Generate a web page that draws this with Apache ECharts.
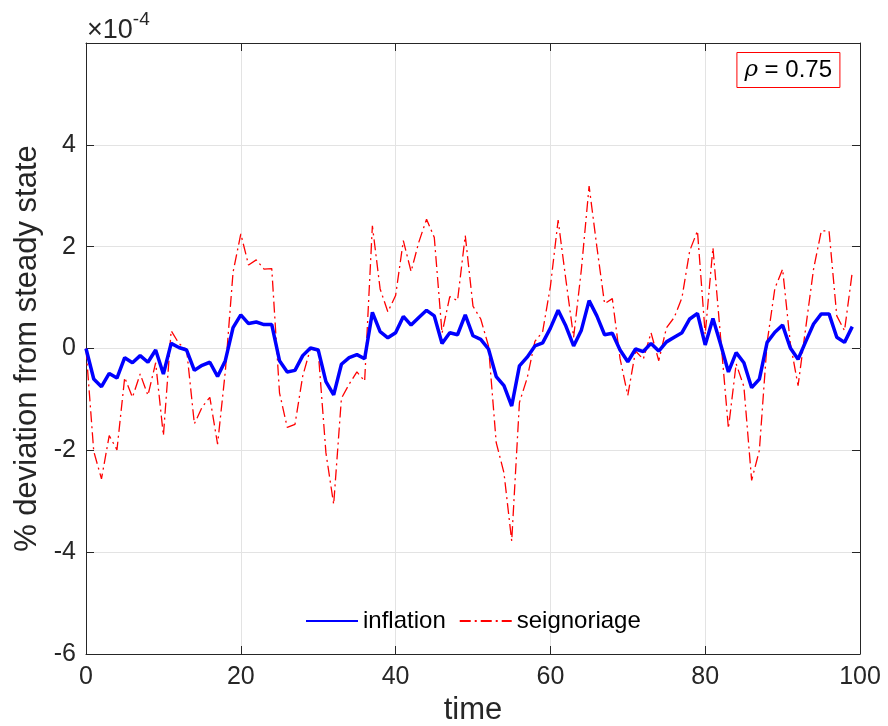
<!DOCTYPE html>
<html>
<head>
<meta charset="utf-8">
<script src="https://cdn.jsdelivr.net/npm/echarts@6/dist/echarts.min.js"></script>
<style>
html,body{margin:0;padding:0;background:#fff;}
#chart{width:888px;height:726px;}
</style>
</head>
<body>
<div id="chart"></div>
<script>
// time index 0..99, values in units of 1e-4 (% deviation from steady state)
const time = Array.from({length: 100}, (_, i) => i);
const inflation = [
  0, -0.60, -0.75, -0.49, -0.58, -0.18, -0.28, -0.14, -0.27, -0.03,
  -0.50, 0.10, 0.02, -0.03, -0.43, -0.33, -0.27, -0.55, -0.24, 0.41,
  0.66, 0.49, 0.52, 0.47, 0.47, -0.24, -0.46, -0.43, -0.14, 0.01,
  -0.03, -0.65, -0.91, -0.31, -0.18, -0.12, -0.20, 0.71, 0.33, 0.21,
  0.31, 0.63, 0.46, 0.61, 0.75, 0.64, 0.10, 0.31, 0.27, 0.66,
  0.25, 0.18, -0.01, -0.55, -0.73, -1.13, -0.34, -0.17, 0.05, 0.11,
  0.40, 0.75, 0.44, 0.05, 0.36, 0.94, 0.64, 0.27, 0.30, -0.03,
  -0.26, -0.01, -0.06, 0.10, -0.05, 0.13, 0.22, 0.31, 0.58, 0.69,
  0.07, 0.59, 0.08, -0.46, -0.08, -0.28, -0.77, -0.60, 0.12, 0.32,
  0.46, 0.01, -0.21, 0.14, 0.48, 0.68, 0.68, 0.22, 0.12, 0.43
];
const seignoriage = [
  0, -2.02, -2.56, -1.71, -1.99, -0.57, -0.96, -0.50, -0.92, -0.28,
  -1.71, 0.35, 0.10, -0.02, -1.48, -1.15, -0.96, -1.88, -0.45, 1.50,
  2.25, 1.64, 1.74, 1.56, 1.57, -0.87, -1.55, -1.49, -0.54, 0.00,
  -0.05, -2.05, -3.06, -0.98, -0.70, -0.46, -0.64, 2.41, 1.17, 0.72,
  1.04, 2.12, 1.51, 2.09, 2.54, 2.18, 0.30, 1.02, 0.94, 2.22,
  0.83, 0.58, 0.05, -1.85, -2.44, -3.78, -1.06, -0.58, 0.14, 0.33,
  1.22, 2.52, 1.35, 0.22, 1.55, 3.19, 2.00, 0.88, 0.98, -0.20,
  -0.92, -0.05, -0.21, 0.31, -0.24, 0.41, 0.61, 1.00, 1.92, 2.31,
  0.28, 1.98, 0.20, -1.57, -0.30, -0.75, -2.59, -2.00, 0.12, 1.18,
  1.56, 0.10, -0.73, 0.42, 1.56, 2.31, 2.31, 0.64, 0.35, 1.50
];
const xTicks = [0, 20, 40, 60, 80, 100];
const yTicks = [-6, -4, -2, 0, 2, 4];

const FONT = 'Liberation Sans, Arial, Helvetica, sans-serif';
const AX = '#262626';

const chart = echarts.init(document.getElementById('chart'));
const tickStyle = {show: true, inside: true, length: 8, lineStyle: {color: AX, width: 1}};
const lineNoZero = {show: true, onZero: false, lineStyle: {color: AX, width: 1}};
const option = {
  animation: false,
  backgroundColor: '#fff',
  grid: {left: 86, right: 28, top: 43, bottom: 72, show: false, containLabel: false, outerBoundsMode: 'none'},
  graphic: [
    {
      type: 'text', left: 87, top: 10,
      style: {
        text: '{a|×10}{s|-4}',
        rich: {
          a: {fontFamily: FONT, fontSize: 27, fill: AX, color: AX, verticalAlign: 'bottom', lineHeight: 34},
          s: {fontFamily: FONT, fontSize: 19, fill: AX, color: AX, verticalAlign: 'top', lineHeight: 20, padding: [0, 0, 14, 0]}
        }
      }
    }
  ],
  title: {
    text: '{i|ρ} = 0.75',
    right: 48, top: 52,
    borderColor: '#ff0000', borderWidth: 1,
    padding: [6, 8, 6, 8],
    backgroundColor: '#fff',
    textStyle: {
      fontFamily: FONT, fontSize: 24, color: '#000', fontWeight: 'normal',
      rich: {i: {fontFamily: 'DejaVu Serif, serif', fontStyle: 'italic', fontSize: 23, color: '#000'}}
    }
  },
  legend: {
    left: 300, top: 604,
    itemWidth: 52, itemHeight: 14, itemGap: 13,
    itemStyle: {opacity: 0},
    textStyle: {fontFamily: FONT, fontSize: 24, color: '#000'},
    data: ['inflation', 'seignoriage']
  },
  xAxis: [
    {
      type: 'value', min: 0, max: 100, interval: 20,
      name: 'time', nameLocation: 'middle', nameGap: 35,
      nameTextStyle: {fontFamily: FONT, fontSize: 31, color: AX},
      axisLine: lineNoZero,
      axisTick: tickStyle,
      axisLabel: {fontFamily: FONT, fontSize: 25, color: AX, margin: 11,
        formatter: v => xTicks.indexOf(v) >= 0 ? String(v) : ''},
      splitLine: {show: true, lineStyle: {color: '#e3e3e3', width: 1}}
    },
    {
      type: 'value', position: 'top', min: 0, max: 100, interval: 20,
      axisLine: lineNoZero,
      axisTick: tickStyle, axisLabel: {show: false}, splitLine: {show: false}
    }
  ],
  yAxis: [
    {
      type: 'value', min: -6, max: 6, interval: 2,
      name: '% deviation from steady state', nameLocation: 'middle', nameGap: 43,
      nameTextStyle: {fontFamily: FONT, fontSize: 31, color: AX},
      axisLine: lineNoZero,
      axisTick: tickStyle,
      axisLabel: {fontFamily: FONT, fontSize: 25, color: AX, margin: 10,
        formatter: v => yTicks.indexOf(v) >= 0 ? String(v) : ''},
      splitLine: {show: true, lineStyle: {color: '#e3e3e3', width: 1}}
    },
    {
      type: 'value', position: 'right', min: -6, max: 6, interval: 2,
      axisLine: lineNoZero,
      axisTick: tickStyle, axisLabel: {show: false}, splitLine: {show: false}
    }
  ],
  series: [
    {
      name: 'inflation', type: 'line', xAxisIndex: 0, yAxisIndex: 0,
      symbol: 'none', z: 3,
      data: time.map((t, i) => [t, inflation[i]]),
      lineStyle: {color: '#0000ff', width: 3.5},
      itemStyle: {color: '#0000ff'}
    },
    {
      name: 'seignoriage', type: 'line', xAxisIndex: 0, yAxisIndex: 0,
      symbol: 'none', z: 2,
      data: time.map((t, i) => [t, seignoriage[i]]),
      lineStyle: {color: '#ff0000', width: 1.3, type: [11, 4, 2, 4]},
      itemStyle: {color: '#ff0000'}
    }
  ]
};
chart.setOption(option);
</script>
</body>
</html>
